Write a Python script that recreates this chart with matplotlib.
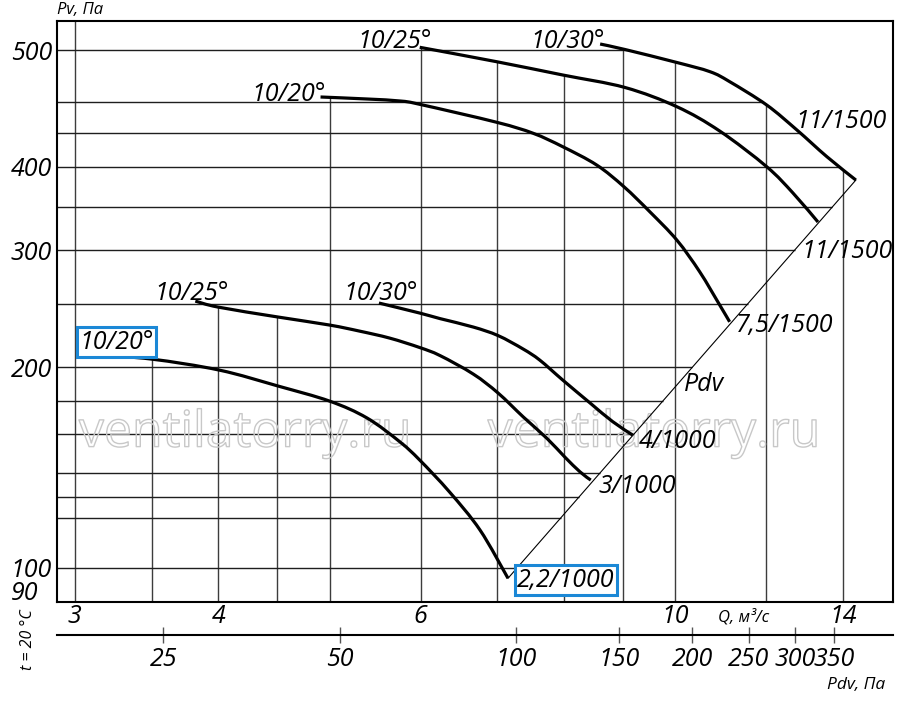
# Fan performance chart: Pv vs Q, log-log, with dynamic pressure scale
import numpy as np
import matplotlib
matplotlib.use('Agg')
import matplotlib.pyplot as plt
from matplotlib import patheffects
from matplotlib.patches import PathPatch
from matplotlib.path import Path
from matplotlib.ticker import NullLocator
from matplotlib.transforms import blended_transform_factory

plt.rcParams['font.family'] = ['Open Sans', 'DejaVu Sans']
plt.rcParams['font.style'] = 'italic'

# curves: Q in m3/s, Pv in Pa
q_a = [3.14, 3.50, 4.01, 4.51, 5.00, 5.39, 5.76, 5.99, 6.36, 6.76, 7.15]
p_a = [208.7, 205.8, 198.1, 187.5, 178.0, 167.9, 154.5, 145.2, 130.0, 114.0, 96.5]

q_b = [3.82, 4.00, 4.51, 5.00, 5.31, 5.64, 5.99, 6.24, 6.67, 7.01, 7.37, 7.73, 8.01, 8.26, 8.44]
p_b = [251.5, 246.3, 238.0, 231.5, 226.7, 221.3, 214.2, 208.3, 195.4, 183.0, 168.6, 156.5,
       146.8, 139.4, 135.5]

q_c = [5.52, 5.99, 6.24, 6.67, 7.01, 7.37, 7.62, 7.98, 8.43, 8.82, 9.18]
p_c = [249.8, 241.3, 236.7, 229.9, 223.2, 213.1, 205.1, 191.4, 176.8, 165.8, 158.3]

q_d = [4.91, 5.39, 5.76, 5.99, 6.99, 7.52, 7.98, 8.54, 9.02, 9.50, 10.03, 10.50, 10.93, 11.15]
p_d = [509.1, 505.6, 502.1, 496.4, 466.5, 449.1, 428.7, 402.5, 373.4, 342.5, 310.5, 278.3,
       248.1, 234.1]

q_e = [5.99, 6.99, 7.98, 9.04, 10.03, 10.93, 12.01, 12.66, 13.31]
p_e = [604.5, 575.1, 549.3, 526.1, 492.3, 452.6, 400.1, 365.3, 330.5]

q_f = [8.60, 9.04, 10.03, 10.72, 11.15, 12.01, 12.76, 13.55, 14.36]
p_f = [611.4, 599.9, 573.6, 555.6, 536.8, 495.2, 454.2, 414.2, 382.1]

# dynamic pressure line through the curve ends
pdv_q = [7.15, 14.36]
pdv_p = [96.5, 382.1]

start_labels = ['10/20°', '10/25°', '10/30°', '10/20°', '10/25°', '10/30°']
end_labels = ['2,2/1000', '3/1000', '4/1000', '7,5/1500', '11/1500', '11/1500']

grid_q = [3, 3.5, 4, 4.5, 5, 6, 7, 8, 9, 10, 12, 14]
grid_p = [598, 500, 449, 400, 348, 300, 249, 200, 178, 159, 139, 128, 119, 100]

q_ticks = [3, 4, 6, 10, 14]
p_ticks = [598, 400, 300, 200, 100]
p_tick_labels = ['500', '400', '300', '200', '100']
pdv_ticks = [25, 50, 100, 150, 200, 250, 300, 350]

# Pdv scale of the lower axis: Pdv = K * Q^N
K_PDV = 2.044
N_PDV = 1.962

curves = [(q_a, p_a), (q_b, p_b), (q_c, p_c), (q_d, p_d), (q_e, p_e), (q_f, p_f)]

BLUE = '#1b88d6'
FS = 18
box = dict(boxstyle='square,pad=0.1', fc='white', ec=BLUE, lw=2.2)

# label placement (pixels offset from curve start / end), ha, boxed
start_style = [((19, 16), 'center', True), ((34, 11), 'right', False), ((39, 13), 'right', False),
               ((5, 6), 'right', False), ((12, 9), 'right', False), ((5, 6), 'right', False)]
end_style = [((58, 1), 'center', True), ((8, -3), 'left', False), ((6, -3), 'left', False),
             ((6, -1), 'left', False), ((-17, -26), 'left', False), ((31, 62), 'right', False)]

fig = plt.figure(figsize=(9, 7.06), dpi=100)
ax = fig.add_axes([57 / 900, 1 - 601.7 / 706, 836 / 900, 580.7 / 706])
ax.set_xscale('log')
ax.set_yscale('log')
xlim = (2.895, 15.47)
ylim = (89, 662)
ax.set_xlim(xlim)
ax.set_ylim(ylim)


def p_at(q0, q, p):
    return np.exp(np.interp(np.log(q0), np.log(q), np.log(p)))


def q_at(p0, q, p):
    order = np.argsort(p)
    return np.exp(np.interp(np.log(p0), np.log(np.asarray(p)[order]), np.log(np.asarray(q)[order])))


def smooth_path(q, p):
    # Catmull-Rom through the points, as cubic Bezier segments in log-log space
    pts = np.column_stack([np.log(q), np.log(p)])
    n = len(pts)
    verts = [pts[0]]
    codes = [Path.MOVETO]
    for i in range(n - 1):
        p0 = pts[i - 1] if i > 0 else pts[i]
        p1, p2 = pts[i], pts[i + 1]
        p3 = pts[i + 2] if i + 2 < n else pts[i + 1]
        verts += [p1 + (p2 - p0) / 6, p2 - (p3 - p1) / 6, p2]
        codes += [Path.CURVE4] * 3
    return Path(np.exp(np.array(verts)), codes)


all_lines = curves + [(pdv_q, pdv_p)]

# vertical grid lines stop at the highest curve
for gq in grid_q:
    tops = [p_at(gq, q, p) for q, p in all_lines if q[0] <= gq <= q[-1]]
    top = max(tops) if tops else ylim[1]
    ax.vlines(gq, ylim[0], top, color='#3c3c3c', lw=1.0, zorder=1)

# horizontal grid lines stop at the outer curve / Pdv line
for gp in grid_p:
    ends = [q_at(gp, q, p) for q, p in all_lines if min(p) <= gp <= max(p)]
    end = min(max(ends), xlim[1]) if ends else xlim[1]
    ax.hlines(gp, xlim[0], end, color='#1e1e1e', lw=1.0, zorder=1)

# watermark
for xf in (0.225, 0.714):
    ax.text(xf, 0.289, 'ventilatorry.ru', transform=ax.transAxes, ha='center', va='center',
            fontsize=36, style='normal', color='none', zorder=2,
            path_effects=[patheffects.Stroke(linewidth=1.0, foreground='#c8c8c8')])

ax.plot(pdv_q, pdv_p, color='black', lw=0.8, zorder=2)

for i, (q, p) in enumerate(curves):
    ax.add_patch(PathPatch(smooth_path(q, p), fc='none', ec='black', lw=2.3,
                           capstyle='butt', joinstyle='round', zorder=3))
    off, ha, boxed = start_style[i]
    ax.annotate(start_labels[i], xy=(q[0], p[0]), xytext=off, textcoords='offset pixels',
                ha=ha, va='center_baseline', fontsize=FS, zorder=5,
                bbox=box if boxed else None)
    off, ha, boxed = end_style[i]
    ax.annotate(end_labels[i], xy=(q[-1], p[-1]), xytext=off, textcoords='offset pixels',
                ha=ha, va='center_baseline', fontsize=FS, zorder=5,
                bbox=box if boxed else None)

q_lab = 10.1
ax.annotate('Pdv', xy=(q_lab, p_at(q_lab, pdv_q, pdv_p)), xytext=(4, 0), textcoords='offset pixels',
            ha='left', va='center_baseline', fontsize=FS)

ax.set_xticks(q_ticks, labels=[str(v) for v in q_ticks])
ax.set_yticks(p_ticks, labels=p_tick_labels)
ax.xaxis.set_minor_locator(NullLocator())
ax.yaxis.set_minor_locator(NullLocator())
ax.tick_params(axis='both', length=0, labelsize=FS)
ax.tick_params(axis='x', pad=1.5)
ax.tick_params(axis='y', pad=3.6)
for s in ax.spines.values():
    s.set_linewidth(1.5)

tr = blended_transform_factory(ax.transAxes, ax.transData)
ax.text(-19 / 836, 92.6, '90', transform=tr, ha='right', va='center_baseline', fontsize=FS)


def q_to_pdv(q):
    return K_PDV * np.power(np.clip(q, 1e-9, None), N_PDV)


def pdv_to_q(p):
    return np.power(np.clip(p, 1e-9, None) / K_PDV, 1 / N_PDV)


sec = ax.secondary_xaxis(-0.0573, functions=(q_to_pdv, pdv_to_q))
sec.set_xticks(pdv_ticks, labels=[str(v) for v in pdv_ticks])
sec.xaxis.set_minor_locator(NullLocator())
sec.tick_params(direction='inout', length=12, width=1, color='#555555', labelsize=FS, pad=2.7)
for s in sec.spines.values():
    s.set_linewidth(1.5)

fig.text(57 / 900, 1 - 10 / 706, 'Pv, Па', fontsize=12, ha='left', va='center')
fig.text(885 / 900, 1 - 685 / 706, 'Pdv, Па', fontsize=12.5, ha='right', va='center')
fig.text(718 / 900, 1 - 617 / 706, 'Q, м³/с', fontsize=12, ha='left', va='center')
fig.text(28 / 900, 1 - 640 / 706, 't = 20 °C', rotation=90, fontsize=11.5, ha='center', va='center')

fig.savefig('out.png', dpi=100)
